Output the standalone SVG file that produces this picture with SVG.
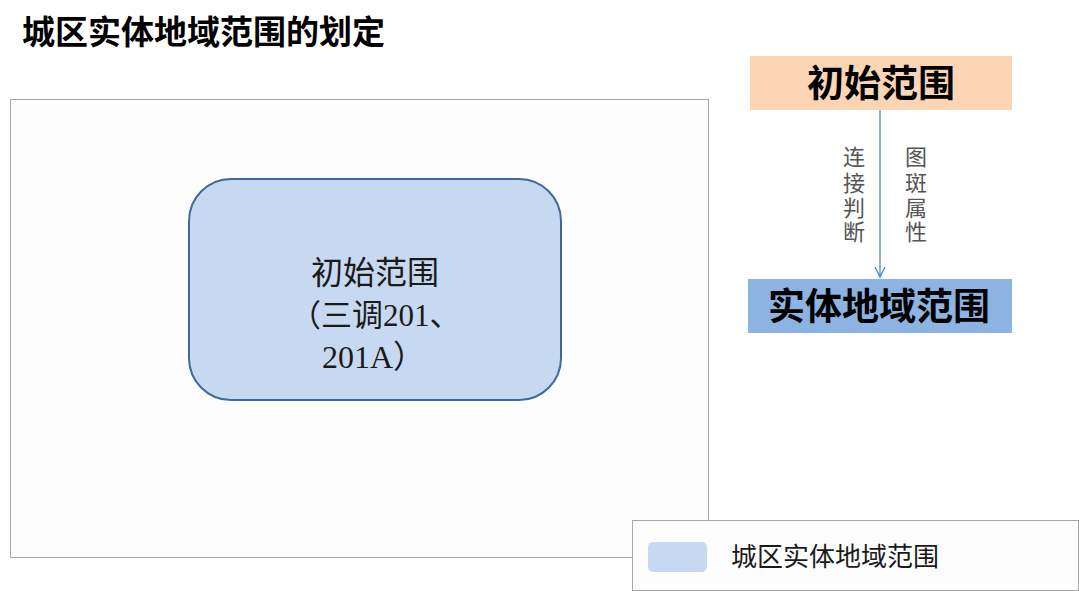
<svg xmlns="http://www.w3.org/2000/svg" width="1079" height="591" viewBox="0 0 1079 591">
<style>
.cjk{font-family:"Liberation Sans","Noto Sans CJK SC",sans-serif;}
.ser{font-family:"Liberation Serif","Noto Sans CJK SC",serif;}
.b{font-weight:bold;}
.frame{fill:#fdfdfd;stroke:#a6a6a6;stroke-width:1;}
</style>
<defs>
<marker id="arr" viewBox="0 0 12 12" refX="11" refY="6" markerWidth="12" markerHeight="12" markerUnits="userSpaceOnUse" orient="auto">
<path d="M1,1 L11,6 L1,11" fill="none" stroke="#4f81bd" stroke-width="1.3"/>
</marker>
</defs>
<rect width="1079" height="591" fill="#ffffff"/>
<text class="cjk b" x="22" y="44" font-size="33" fill="#000">城区实体地域范围的划定</text>
<g id="area">
<rect class="frame" x="10.5" y="99.5" width="698" height="458"/>
</g>
<g id="initial">
<rect x="189" y="179" width="372" height="221" rx="42" fill="#c6d9f1" stroke="#41689b" stroke-width="2"/>
<text class="cjk" x="375" y="284" font-size="32" text-anchor="middle" fill="#1a1a1a">初始范围</text>
<text class="ser" x="290" y="326" font-size="31" fill="#1a1a1a">（三调201、</text>
<text class="ser" x="322" y="368" font-size="32" fill="#1a1a1a">201A）</text>
</g>
<g id="box-initial">
<rect x="750" y="56" width="262" height="54" fill="#fcd5b5"/>
<text class="cjk b" x="881" y="97" font-size="37" text-anchor="middle" fill="#000">初始范围</text>
</g>
<g id="box-entity">
<rect x="748" y="279" width="264" height="54" fill="#8db3e2"/>
<text class="cjk b" x="879" y="320" font-size="37" text-anchor="middle" fill="#000">实体地域范围</text>
</g>
<g id="connectors">
<line x1="880" y1="110" x2="880" y2="277" stroke="#4f81bd" stroke-width="1.3" marker-end="url(#arr)"/>
<g class="cjk" font-size="22" fill="#555" text-anchor="middle">
<text x="854" y="165">连</text>
<text x="854" y="191">接</text>
<text x="854" y="216">判</text>
<text x="854" y="240">断</text>
<text x="916" y="165">图</text>
<text x="916" y="191">斑</text>
<text x="916" y="216">属</text>
<text x="916" y="240">性</text>
</g>
</g>
<g id="legend">
<rect class="frame" x="632.5" y="520.5" width="446" height="70" fill="#ffffff"/>
<rect x="648" y="542" width="59" height="30" rx="5" fill="#c6d9f1"/>
<text class="cjk" x="731" y="566" font-size="26" fill="#1a1a1a">城区实体地域范围</text>
</g>
</svg>
